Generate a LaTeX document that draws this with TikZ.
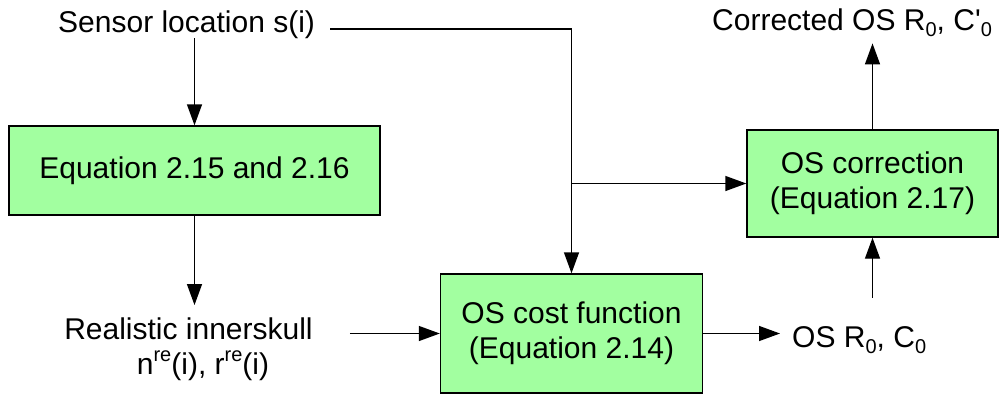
\documentclass[tikz,border=0pt]{standalone}
\usepackage{fontspec}
\setmainfont{Liberation Sans}
\usetikzlibrary{arrows.meta}
% raised / lowered small indices used in the labels
\newcommand\supx[1]{\raisebox{13pt}{\fontsize{20}{20}\selectfont #1}}
\newcommand\subx[1]{\raisebox{-6.5pt}{\fontsize{20}{20}\selectfont #1}}
\definecolor{boxgreen}{RGB}{162,255,160}
\tikzset{
  lbl/.style={inner sep=0pt, font=\fontsize{30}{35}\selectfont},
  block/.style={draw=black, line width=1.4pt, fill=boxgreen, inner sep=0pt,
    align=center, font=\fontsize{30}{35}\selectfont},
  arr/.style={line width=1.4pt, -{Triangle[length=21pt,width=15pt]}},
  wire/.style={line width=1.4pt}
}
\begin{document}
\begin{tikzpicture}[x=1pt,y=-1pt]
\useasboundingbox (0,0) rectangle (1006,394);

% processing blocks
\node[block, minimum width=371pt, minimum height=89pt] (eq) at (194.5,170.5)
  {Equation 2.15 and 2.16};
\node[block, minimum width=262pt, minimum height=119pt] (cost) at (571.5,333.5)
  {OS cost function\\(Equation 2.14)};
\node[block, minimum width=251pt, minimum height=107pt] (corr) at (872.5,183.5)
  {OS correction\\(Equation 2.17)};

% inputs and outputs
\node[lbl, anchor=base west] (sensor) at (58,32) {Sensor location s(i)};
\node[lbl, align=center] (real) at (188.5,349.7)
  {Realistic innerskull\\\hspace*{29pt}n\supx{re}(i), r\supx{re}(i)};
\node[lbl, anchor=base west] (osr) at (792,347) {OS R\subx{0}, C\subx{0}};
\node[lbl, anchor=base west] (corrected) at (712,30)
  {Corrected OS R\subx{0}, C\textquotesingle\subx{0}};

% connectors
\draw[arr] (sensor.south -| eq.north) -- (eq.north);
\draw[arr] (eq.south) -- ([yshift=13pt]real.north -| eq.south);
\draw[arr] ([shift={(15pt,3pt)}]sensor.base east) -| (cost.north);
\draw[arr] (cost.north |- corr.west) -- (corr.west);
\draw[arr] ([xshift=37pt]real.east |- cost.west) -- (cost.west);
\draw[arr] (cost.east) -- ([xshift=-12pt]osr.west |- cost.east);
\draw[arr] ([yshift=28pt]osr.north -| corr.south) -- (corr.south);
\draw[arr] (corr.north) -- ([yshift=-6.5pt]corrected.south -| corr.north);
\end{tikzpicture}
\end{document}
